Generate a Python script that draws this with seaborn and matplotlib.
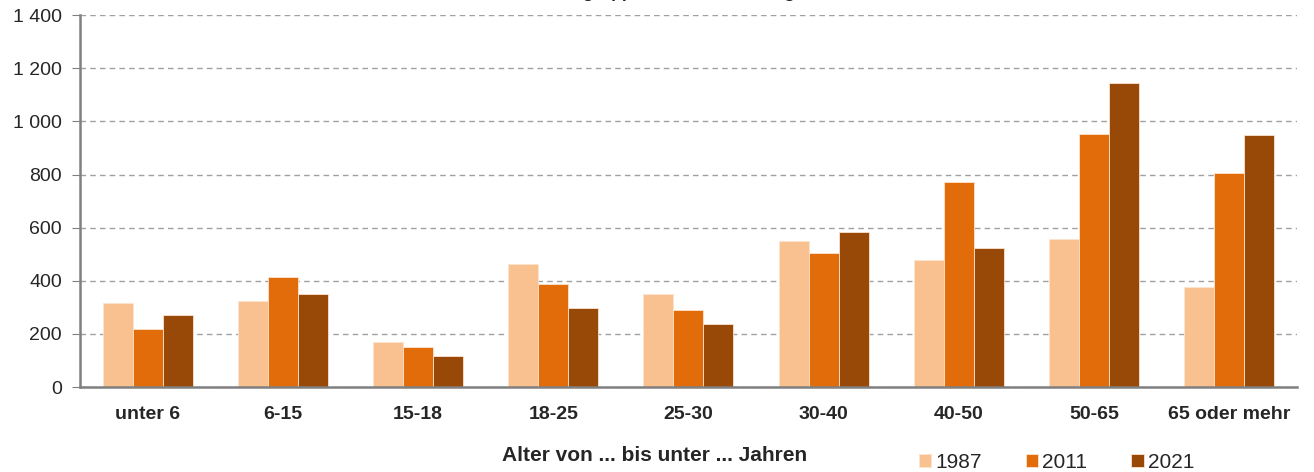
import matplotlib

matplotlib.use("Agg")
import matplotlib.pyplot as plt
import pandas as pd
import seaborn as sns
from matplotlib.ticker import FuncFormatter

# Daten (in 1 000)
altersgruppen = ["unter 6", "6-15", "15-18", "18-25", "25-30",
                 "30-40", "40-50", "50-65", "65 oder mehr"]
jahre = ["1987", "2011", "2021"]
werte_1987 = [315, 325, 169, 462, 350, 550, 477, 557, 375]
werte_2011 = [217, 414, 149, 389, 290, 505, 771, 952, 806]
werte_2021 = [273, 352, 116, 297, 237, 584, 525, 1146, 947]
farben = ["#F9C090", "#E36C0A", "#984807"]

sns.set_style("white")
plt.rcParams["font.family"] = ["Liberation Sans", "DejaVu Sans"]

df = pd.DataFrame({
    "Alter": altersgruppen * 3,
    "Jahr": [j for j in jahre for _ in altersgruppen],
    "Wert": werte_1987 + werte_2011 + werte_2021,
})

fig = plt.figure(figsize=(13.14, 4.72), dpi=100)
ax = fig.add_axes([0.0609, 0.180, 0.926, 0.788])

sns.barplot(data=df, x="Alter", y="Wert", hue="Jahr", order=altersgruppen,
            hue_order=jahre, palette=farben, width=0.665, ax=ax,
            edgecolor="#FCE4D0", linewidth=0.6, saturation=1, legend=True)

ax.set_ylim(0, 1400)
ax.set_xlim(-0.5, 8.5)
ax.set_yticks(range(0, 1401, 200))
ax.yaxis.set_major_formatter(FuncFormatter(lambda v, p: f"{int(v):,}".replace(",", " ")))
ax.grid(axis="y", linestyle=(0, (4, 3)), color="#A0A0A0", linewidth=1)
ax.set_axisbelow(True)

for s in ["top", "right"]:
    ax.spines[s].set_visible(False)
for s in ["left", "bottom"]:
    ax.spines[s].set_color("#808080")
    ax.spines[s].set_linewidth(1.8)

ax.tick_params(axis="y", left=True, length=6, color="#808080", labelsize=14, pad=7)
ax.tick_params(axis="x", bottom=False, labelsize=14, pad=10)
for lbl in ax.get_xticklabels():
    lbl.set_fontweight("bold")

ax.set_xlabel("")
ax.set_ylabel("")
fig.text(0.4985, 0.014, "Alter von ... bis unter ... Jahren", ha="center",
         va="bottom", fontsize=15, fontweight="bold")

# Titel liegt fast vollständig ausserhalb des Bildes (wie im Original abgeschnitten)
fig.text(0.462, 1.004, "In 1 000 nach Altersgruppen der Bevölkerung",
         ha="center", va="baseline", fontsize=12.5, fontweight="bold")

handles, labels = ax.get_legend_handles_labels()
ax.legend(handles, labels, loc="lower left", bbox_to_anchor=(0.674, -0.278),
          ncol=3, frameon=False, fontsize=15, handlelength=0.6,
          handleheight=0.6, handletextpad=0.2, columnspacing=2.1)

fig.savefig("out.png", dpi=100)
